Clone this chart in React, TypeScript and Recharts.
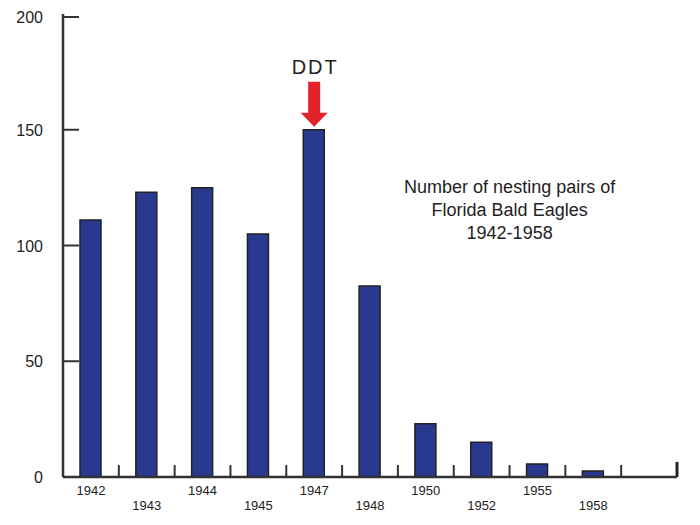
import React from "react";
import { BarChart, Bar, XAxis, YAxis, ReferenceLine, ReferenceDot } from "recharts";

const years = ["1942", "1943", "1944", "1945", "1947", "1948", "1950", "1952", "1955", "1958", " "];
const pairs = [111, 123, 125, 105, 150, 82.5, 23, 15, 5.6, 2.6, null];
const yTicks = [0, 50, 100, 150, 200];
const titleLines = ["Number of nesting pairs of", "Florida Bald Eagles", "1942-1958"];

const data = years.map((y, i) => ({ year: y, pairs: pairs[i] }));

const FONT = "'Liberation Sans', Arial, sans-serif";

const XTick = (props: any) => {
  const { x, y, payload, index } = props;
  const odd = index % 2 === 1;
  return (
    <text x={x} y={y + (odd ? 33 : 18)} textAnchor="middle" fontSize={13} fill="#222" fontFamily={FONT}>
      {payload.value}
    </text>
  );
};

const YTick = (props: any) => {
  const { x, y, payload } = props;
  return (
    <g>
      <line x1={x} x2={x + 16} y1={y} y2={y} stroke="#333" strokeWidth={2} />
      <text x={x - 20} y={y + 6} textAnchor="end" fontSize={16} fill="#222" fontFamily={FONT}>
        {payload.value}
      </text>
    </g>
  );
};

const ArrowShape = (props: any) => {
  const { cx, cy } = props;
  return (
    <g>
      <polygon
        points={`${cx - 6},${cy - 48} ${cx + 6},${cy - 48} ${cx + 6},${cy - 17} ${cx + 13.5},${cy - 17} ${cx},${cy - 3} ${cx - 13.5},${cy - 17} ${cx - 6},${cy - 17}`}
        fill="#e3232b"
      />
      <text x={cx + 1} y={cy - 56} textAnchor="middle" fontSize={20} letterSpacing={2} fill="#222" fontFamily={FONT}>
        DDT
      </text>
    </g>
  );
};

const TitleShape = (props: any) => {
  const { cx, cy } = props;
  const x = cx + 28;
  return (
    <g>
      {titleLines.map((t, i) => (
        <text key={i} x={x} y={cy + (i - 1) * 23} textAnchor="middle" fontSize={18} fill="#222" fontFamily={FONT}>
          {t}
        </text>
      ))}
    </g>
  );
};

export default function App() {
  const last = years.length - 1;
  return (
    <BarChart
      width={692}
      height={517}
      data={data}
      margin={{ top: 6, right: 23, left: 0, bottom: 0 }}
      barCategoryGap={0}
    >
      <XAxis
        dataKey="year"
        interval={0}
        height={48}
        tickSize={0}
        tickMargin={0}
        tickLine={false}
        tick={<XTick />}
        axisLine={{ stroke: "#333", strokeWidth: 2.5 }}
      />
      <YAxis
        domain={[0, 200]}
        ticks={yTicks}
        width={55}
        tickSize={0}
        tickMargin={0}
        tickLine={false}
        tick={<YTick />}
        axisLine={{ stroke: "#333", strokeWidth: 2.5 }}
      />
      {years.map((yr, i) => (
        <ReferenceLine
          key={i}
          position="end"
          segment={[{ x: yr, y: 0 }, { x: yr, y: i === last ? 6.5 : 5.2 }]}
          stroke={i === last ? "#222" : "#333"}
          strokeWidth={i === last ? 3 : 2}
          ifOverflow="visible"
        />
      ))}
      <Bar
        dataKey="pairs"
        barSize={21}
        fill="#2a3990"
        stroke="#222"
        strokeWidth={1.5}
        isAnimationActive={false}
      />
      <ReferenceDot x="1947" y={150} r={0} shape={<ArrowShape />} ifOverflow="visible" />
      <ReferenceDot x="1952" y={112.7} r={0} shape={<TitleShape />} ifOverflow="visible" />
    </BarChart>
  );
}
